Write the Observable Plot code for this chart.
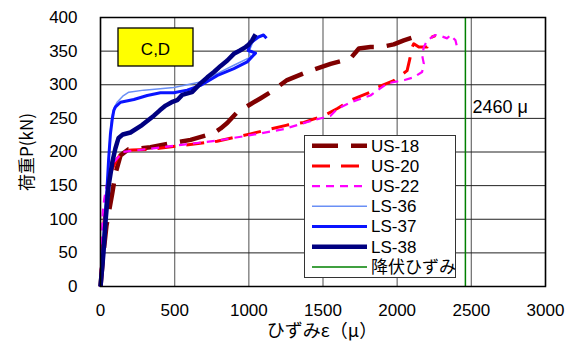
<!DOCTYPE html>
<html><head><meta charset="utf-8">
<script src="https://cdn.jsdelivr.net/npm/d3@7"></script>
<script src="https://cdn.jsdelivr.net/npm/@observablehq/plot@0.6"></script>
<style>body{margin:0;background:#fff} svg{display:block}</style>
</head><body><div id="chart"></div>
<script>
// ---- data ----
const xTicks = [0, 500, 1000, 1500, 2000, 2500, 3000];
const yTicks = [0, 50, 100, 150, 200, 250, 300, 350, 400];
const seriesNames = ["US-18", "US-20", "US-22", "LS-36", "LS-37", "LS-38"];
const yieldName = "降伏ひずみ";
const yieldStrain = 2460;
const yieldLabel = "2460 μ";
const yieldLabelLoad = 266;
const boxLabel = "C,D";
const xLabel = "ひずみε（μ）";
const yLabel = "荷重P(kN)";

const us18Strain = [0, 20, 40, 60, 79, 101, 135, 189, 260, 337, 472, 607, 762, 810, 854, 921, 1011, 1080, 1146, 1258, 1393, 1551, 1685, 1742, 1820, 1888, 1977, 2045, 2157];
const us18Load   = [0, 50, 90, 115, 138, 168, 195, 204, 205, 207, 213, 218, 228, 235, 243, 259, 271, 280, 289, 307, 319, 331, 339, 354, 356, 356, 360, 366, 374];

const us20Strain = [0, 10, 25, 45, 70, 112, 157, 213, 337, 560, 786, 1011, 1258, 1371, 1506, 1600, 1685, 1820, 1843, 1977, 2067, 2085, 2101, 2112, 2146, 2202, 2213, 2258];
const us20Load   = [0, 60, 100, 140, 170, 190, 202, 203, 204, 210, 216, 227, 240, 244, 254, 265, 277, 289, 294, 306, 321, 338, 356, 361, 356, 356, 369, 373];

const us22Strain = [0, 5, 10, 15, 25, 50, 90, 150, 337, 560, 786, 1011, 1236, 1400, 1551, 1596, 1700, 1820, 1933, 2050, 2112, 2168, 2180, 2168, 2180, 2202, 2258, 2300, 2337, 2359, 2393, 2404];
const us22Load   = [0, 40, 80, 110, 130, 160, 185, 200, 205, 211, 217, 225, 234, 245, 254, 264, 275, 284, 302, 307, 311, 319, 331, 344, 356, 366, 374, 372, 369, 374, 366, 356];

const ls36Strain = [0, 15, 30, 45, 55, 65, 75, 90, 112, 150, 191, 292, 494, 674, 789, 899, 1011, 1000, 1025, 1055];
const ls36Load   = [0, 50, 100, 150, 190, 227, 250, 265, 274, 283, 289, 292, 296, 304, 317, 329, 341, 349, 362, 373];

const ls37Strain = [0, 15, 30, 45, 55, 67, 80, 90, 101, 135, 225, 315, 404, 494, 584, 674, 789, 899, 989, 1045, 1022, 995, 1011, 1065, 1099, 1119];
const ls37Load   = [0, 50, 100, 150, 190, 227, 250, 262, 267, 274, 278, 284, 288, 288, 292, 299, 314, 324, 334, 347, 349, 351, 362, 371, 374, 369];

const ls38Strain = [0, 20, 35, 55, 80, 100, 112, 122, 150, 202, 280, 360, 400, 439, 480, 517, 551, 617, 674, 720, 765, 810, 855, 899, 940, 978, 1000, 1022, 1045];
const ls38Load   = [0, 50, 100, 150, 185, 205, 214, 221, 226, 229, 240, 254, 262, 269, 274, 277, 285, 289, 302, 311, 319, 328, 336, 346, 351, 356, 360, 366, 375];

// ---- styles ----
const styles = [
  {stroke: "#800000", strokeWidth: 4.5, dash: "26 13"},
  {stroke: "#ff0000", strokeWidth: 3, dash: "18 11"},
  {stroke: "#ff00ff", strokeWidth: 2.2, dash: "8 6"},
  {stroke: "#6a8ff5", strokeWidth: 1.5, dash: null},
  {stroke: "#0a14ff", strokeWidth: 3, dash: null},
  {stroke: "#000080", strokeWidth: 4.5, dash: null}
];
const yieldStyle = {stroke: "#008000", strokeWidth: 1.5};
const FONT = "'Liberation Sans', 'Noto Sans CJK JP', sans-serif";
const JFONT = "'Noto Sans CJK JP', sans-serif";

const strains = [us18Strain, us20Strain, us22Strain, ls36Strain, ls37Strain, ls38Strain];
const loads = [us18Load, us20Load, us22Load, ls36Load, ls37Load, ls38Load];
const seriesRows = seriesNames.map((name, i) => strains[i].map((s, j) => ({name, strain: s, load: loads[i][j]})));

const lineMarks = seriesRows.map((rows, i) => Plot.line(rows, {
  x: "strain", y: "load", stroke: styles[i].stroke, strokeWidth: styles[i].strokeWidth,
  strokeDasharray: styles[i].dash || undefined, strokeLinecap: "butt", strokeLinejoin: "round"
}));

const chart = Plot.plot({
  width: 572, height: 345,
  marginLeft: 100, marginRight: 27, marginTop: 17, marginBottom: 59,
  x: {domain: [0, 3000]},
  y: {domain: [0, 400]},
  style: {fontFamily: FONT, fontSize: "17px", color: "#000", background: "#fff"},
  marks: [
    Plot.gridX(xTicks, {stroke: "#777", strokeOpacity: 1, strokeWidth: 1.3}),
    Plot.gridY(yTicks, {stroke: "#222", strokeOpacity: 1, strokeWidth: 1}),
    Plot.ruleX([yieldStrain], {stroke: yieldStyle.stroke, strokeWidth: yieldStyle.strokeWidth}),
    ...lineMarks,
    Plot.frame({stroke: "#000", strokeWidth: 1.5}),
    Plot.axisX(xTicks, {tickSize: 0, tickPadding: 17, fontSize: 17, label: null, tickFormat: d => String(d)}),
    Plot.axisY(yTicks, {tickSize: 0, tickPadding: 23, fontSize: 17, label: null, tickFormat: d => String(d)}),
    Plot.text([yieldLabel], {x: yieldStrain, y: yieldLabelLoad, text: d => d, dx: 7, textAnchor: "start", fontSize: 18})
  ]
});
document.getElementById("chart").appendChild(chart);

const svg = d3.select(chart);
// axis titles
svg.append("text").attr("x", 322).attr("y", 331).attr("dy", "0.35em")
  .attr("text-anchor", "middle").attr("font-size", 18).attr("font-family", JFONT)
  .attr("fill", "#000").text(xLabel);
svg.append("text").attr("transform", "translate(27,152) rotate(-90)").attr("dy", "0.35em")
  .attr("text-anchor", "middle").attr("font-size", 17).attr("font-family", JFONT)
  .attr("fill", "#000").text(yLabel);

// ---- annotation box and legend ----
const box = svg.append("g");
box.append("rect").attr("x", 118).attr("y", 28).attr("width", 75).attr("height", 38)
  .attr("fill", "#ffff00").attr("stroke", "#000").attr("stroke-width", 1.3);
box.append("text").attr("x", 155.5).attr("y", 49).attr("dy", "0.35em").attr("text-anchor", "middle")
  .attr("font-size", 17).attr("font-family", FONT).attr("fill", "#000").text(boxLabel);

const lg = svg.append("g");
lg.append("rect").attr("x", 304.5).attr("y", 135.5).attr("width", 151).attr("height", 142)
  .attr("fill", "#fff").attr("stroke", "#333").attr("stroke-width", 1);
const legendItems = seriesNames.map((n, i) => ({name: n, ...styles[i]}))
  .concat([{name: yieldName, ...yieldStyle, dash: null}]);
legendItems.forEach((it, i) => {
  const y = 145.7 + i * 20.2;
  lg.append("line").attr("x1", 312).attr("x2", 367).attr("y1", y).attr("y2", y)
    .attr("stroke", it.stroke).attr("stroke-width", it.strokeWidth)
    .attr("stroke-dasharray", it.dash).attr("stroke-linecap", "butt");
  lg.append("text").attr("x", 371).attr("y", y).attr("dy", "0.35em").attr("text-anchor", "start")
    .attr("font-size", 17).attr("font-family", FONT).attr("fill", "#000").text(it.name);
});
</script>
</body></html>
